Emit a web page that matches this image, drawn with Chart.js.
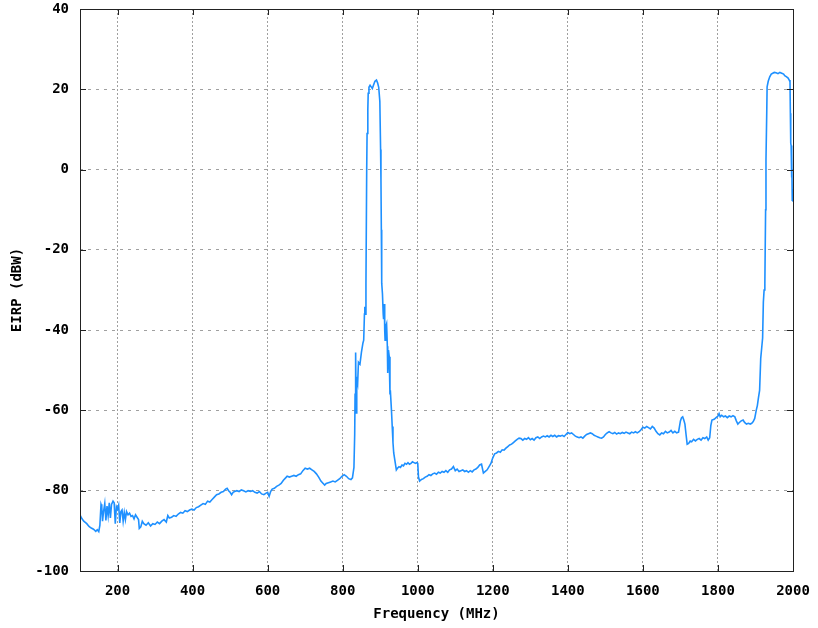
<!DOCTYPE html>
<html>
<head>
<meta charset="utf-8">
<title>EIRP spectrum</title>
<script src="https://cdn.jsdelivr.net/npm/chart.js@4/dist/chart.umd.min.js"></script>
<style>
  html, body { margin: 0; padding: 0; background: #fff; }
  #spectrum { display: block; }
</style>
</head>
<body>
<canvas id="spectrum" width="818" height="628"></canvas>
<script>
// measured sweep, 100 MHz - 2 GHz
const freqMHz = [
  100, 104, 110, 118, 124, 130, 136, 142, 146, 150, 153, 156, 158, 160, 163, 166, 169, 172, 175, 178,
  181, 184, 188, 191, 194, 197, 200, 203, 206, 209, 212, 215, 218, 221, 224, 228, 232, 236, 240, 244,
  248, 252, 256, 258, 262, 266, 270, 276, 282, 288, 294, 300, 306, 312, 318, 324, 330, 334, 338, 344,
  350, 356, 362, 368, 374, 380, 386, 392, 398, 404, 410, 416, 422, 428, 434, 440, 446, 452, 458, 464,
  470, 476, 482, 488, 492, 496, 500, 504, 508, 512, 518, 524, 530, 536, 542, 548, 554, 560, 566, 572,
  578, 584, 590, 596, 600, 604, 608, 612, 618, 624, 630, 636, 642, 648, 652, 658, 664, 670, 676, 682,
  688, 694, 700, 706, 712, 718, 724, 730, 736, 742, 748, 752, 756, 762, 768, 774, 780, 786, 792, 798,
  804, 810, 816, 822, 826, 830, 832, 833, 834, 835, 836, 837, 838, 840, 842, 846, 850, 854, 856, 858,
  859, 861, 862, 864, 865, 867, 868, 870, 873, 876, 879, 882, 886, 890, 893, 896, 899, 901, 902, 903,
  904, 906, 908, 909, 911, 912, 913, 915, 917, 919, 920, 922, 924, 926, 927, 930, 932, 934, 936, 940,
  943, 946, 950, 954, 958, 962, 966, 970, 974, 978, 982, 986, 990, 994, 998, 1000, 1002, 1005, 1010, 1015,
  1020, 1025, 1030, 1035, 1040, 1045, 1050, 1055, 1060, 1065, 1070, 1075, 1080, 1085, 1090, 1095, 1100, 1105, 1110, 1115,
  1120, 1125, 1130, 1135, 1140, 1145, 1150, 1155, 1160, 1165, 1170, 1175, 1180, 1185, 1190, 1195, 1200, 1205, 1210, 1215,
  1220, 1225, 1230, 1235, 1240, 1245, 1250, 1255, 1260, 1265, 1270, 1275, 1280, 1285, 1290, 1295, 1300, 1305, 1310, 1315,
  1320, 1325, 1330, 1335, 1340, 1345, 1350, 1355, 1360, 1365, 1370, 1375, 1380, 1385, 1390, 1395, 1400, 1405, 1410, 1415,
  1420, 1425, 1430, 1435, 1440, 1445, 1450, 1455, 1460, 1465, 1470, 1475, 1480, 1485, 1490, 1495, 1500, 1505, 1510, 1515,
  1520, 1525, 1530, 1535, 1540, 1545, 1550, 1555, 1560, 1565, 1570, 1575, 1580, 1585, 1590, 1595, 1600, 1605, 1610, 1615,
  1620, 1625, 1630, 1635, 1640, 1645, 1650, 1655, 1660, 1665, 1670, 1675, 1680, 1685, 1690, 1695, 1700, 1703, 1706, 1709,
  1712, 1715, 1718, 1722, 1726, 1730, 1735, 1740, 1745, 1750, 1755, 1760, 1765, 1770, 1774, 1778, 1781, 1784, 1790, 1795,
  1800, 1803, 1806, 1810, 1815, 1820, 1825, 1830, 1835, 1840, 1845, 1849, 1853, 1857, 1862, 1867, 1871, 1876, 1881, 1886,
  1890, 1894, 1898, 1902, 1905, 1908, 1911, 1914, 1917, 1919, 1921, 1923, 1925, 1927, 1928, 1930, 1931, 1934, 1938, 1942,
  1946, 1950, 1955, 1960, 1965, 1970, 1975, 1978, 1983, 1987, 1990, 1992, 1993, 1994, 1995, 1996, 1997, 1998, 1999, 2000
];
const eirpDbw = [
  -86.0, -86.8, -87.6, -88.2, -88.9, -89.3, -89.6, -90.1, -89.7, -90.2, -88.6, -83.4, -84.0, -87.6, -85.0, -83.2, -87.4, -83.8, -86.2, -83.0,
  -86.8, -83.4, -82.6, -83.0, -88.2, -84.0, -84.6, -83.6, -88.0, -85.2, -84.8, -87.6, -85.4, -87.2, -85.2, -86.0, -85.6, -86.4, -86.2, -87.0,
  -86.0, -86.6, -87.2, -89.4, -89.0, -87.6, -88.2, -88.6, -88.0, -88.8, -88.2, -88.4, -87.8, -88.2, -87.6, -87.2, -87.8, -86.2, -86.8, -86.6,
  -86.2, -86.4, -85.8, -85.4, -85.6, -85.0, -85.2, -84.8, -84.6, -84.8, -84.2, -84.0, -83.6, -83.2, -83.4, -82.6, -82.8, -82.2, -81.6, -81.0,
  -80.8, -80.4, -80.2, -79.6, -79.4, -80.0, -80.4, -81.0, -80.4, -80.2, -80.0, -80.2, -79.8, -80.0, -80.3, -80.0, -80.2, -80.0, -80.4, -80.6,
  -80.2, -80.8, -81.0, -80.6, -80.4, -81.4, -80.2, -79.6, -79.4, -78.9, -78.6, -78.2, -77.4, -76.8, -76.4, -76.6, -76.4, -76.2, -76.4, -76.0,
  -75.8, -75.0, -74.4, -74.6, -74.4, -74.8, -75.2, -75.8, -76.6, -77.6, -78.2, -78.6, -78.2, -78.0, -77.8, -77.6, -77.8, -77.4, -77.0, -76.4,
  -76.0, -76.4, -77.0, -77.2, -76.8, -74.2, -66.0, -56.0, -48.0, -45.6, -60.6, -52.0, -51.6, -53.0, -48.0, -48.5, -45.5, -43.2, -42.5, -36.0,
  -34.2, -36.0, -28.3, 0.0, 9.0, 15.0, 19.0, 20.5, 21.0, 20.6, 20.2, 21.0, 22.0, 22.3, 21.6, 20.5, 17.0, 5.0, -2.6, -15.0,
  -28.3, -31.0, -36.0, -37.3, -33.5, -40.0, -42.5, -39.0, -38.4, -44.0, -50.7, -45.0, -46.6, -56.0, -55.0, -60.0, -64.0, -68.0, -70.6, -73.0,
  -74.8, -74.4, -74.0, -74.2, -73.6, -73.8, -73.2, -73.4, -73.0, -73.4, -73.2, -72.8, -73.0, -73.2, -73.0, -73.2, -76.6, -77.6, -77.2, -77.0,
  -76.6, -76.4, -76.0, -76.2, -75.8, -75.6, -75.9, -75.4, -75.6, -75.2, -75.4, -75.0, -75.4, -74.8, -74.6, -74.0, -75.0, -74.6, -75.2, -75.0,
  -74.8, -75.2, -75.0, -75.4, -75.0, -75.3, -74.8, -74.6, -74.2, -73.6, -73.4, -75.6, -75.2, -74.8, -74.0, -73.2, -71.8, -70.8, -70.6, -70.2,
  -70.4, -69.8, -69.9, -69.4, -69.0, -68.6, -68.4, -68.0, -67.6, -67.2, -66.9, -67.0, -67.4, -67.0, -67.2, -66.8, -67.3, -67.0, -67.4, -66.8,
  -66.6, -67.0, -66.6, -66.4, -66.6, -66.3, -66.6, -66.2, -66.5, -66.2, -66.6, -66.3, -66.4, -66.2, -66.5, -66.0, -65.5, -65.8, -65.6, -66.0,
  -66.4, -66.6, -66.8, -66.6, -66.9, -66.4, -66.0, -65.8, -65.6, -65.8, -66.2, -66.4, -66.6, -66.8, -66.9, -66.6, -66.0, -65.6, -65.3, -65.6,
  -65.8, -65.5, -65.9, -65.6, -65.8, -65.5, -65.7, -65.4, -65.6, -65.8, -65.4, -65.6, -65.3, -65.6, -65.3, -64.8, -64.2, -64.4, -64.0, -64.3,
  -64.6, -64.0, -64.4, -65.2, -65.8, -66.1, -65.6, -65.8, -65.2, -65.6, -65.4, -65.0, -65.6, -65.2, -65.6, -65.4, -62.6, -61.8, -61.6, -62.4,
  -63.4, -66.0, -68.4, -68.2, -67.6, -67.8, -67.2, -67.6, -67.2, -67.0, -67.4, -66.8, -67.0, -66.6, -67.4, -66.8, -63.8, -62.4, -62.2, -61.8,
  -61.4, -60.8, -61.6, -61.2, -61.6, -61.4, -61.8, -61.4, -61.6, -61.3, -61.6, -62.6, -63.4, -63.0, -62.6, -62.4, -63.0, -63.4, -63.2, -63.4,
  -63.2, -62.8, -62.0, -60.0, -58.8, -56.8, -55.0, -47.0, -44.0, -42.0, -33.0, -30.0, -28.3, -10.0, 2.4, 14.0, 20.6, 22.0, 23.1, 23.8,
  24.0, 24.2, 24.1, 23.9, 24.2, 24.0, 23.8, 23.4, 23.1, 22.8, 22.3, 21.9, 14.0, 6.5, 6.0, -2.0, 4.0, -7.6, -5.0, -8.0
];

const freqTicks = [200, 400, 600, 800, 1000, 1200, 1400, 1600, 1800, 2000];
const eirpTicks = [-100, -80, -60, -40, -20, 0, 20, 40];

const labelFont = { family: "'DejaVu Sans Mono', monospace", size: 14, weight: 'bold' };

// box around the plot with short inward tick marks on all four sides
const frameTicks = {
  id: 'frameTicks',
  afterDatasetsDraw(chart) {
    const { ctx, chartArea: a, scales: { x, y } } = chart;
    const len = 6;
    ctx.save();
    ctx.strokeStyle = '#222';
    ctx.lineWidth = 1;
    ctx.beginPath();
    x.ticks.forEach(t => {
      const px = Math.round(x.getPixelForValue(t.value)) + 0.5;
      ctx.moveTo(px, a.top); ctx.lineTo(px, a.top + len);
      ctx.moveTo(px, a.bottom); ctx.lineTo(px, a.bottom - len);
    });
    y.ticks.forEach(t => {
      const py = Math.round(y.getPixelForValue(t.value)) + 0.5;
      ctx.moveTo(a.left, py); ctx.lineTo(a.left + len, py);
      ctx.moveTo(a.right, py); ctx.lineTo(a.right - len, py);
    });
    ctx.stroke();
    ctx.strokeRect(Math.round(a.left) + 0.5, Math.round(a.top) + 0.5,
      Math.round(a.right - a.left), Math.round(a.bottom - a.top));
    ctx.restore();
  }
};

new Chart(document.getElementById('spectrum'), {
  type: 'line',
  data: {
    datasets: [{
      data: freqMHz.map((f, i) => ({ x: f, y: eirpDbw[i] })),
      borderColor: '#1e90ff',
      borderWidth: 1.6,
      pointRadius: 0,
      tension: 0,
      fill: false
    }]
  },
  options: {
    responsive: false,
    animation: false,
    devicePixelRatio: 1,
    layout: { padding: { top: 9, right: 25, left: 0, bottom: 0 } },
    plugins: { legend: { display: false }, tooltip: { enabled: false } },
    scales: {
      x: {
        type: 'linear',
        min: 100,
        max: 2000,
        afterBuildTicks: s => { s.ticks = freqTicks.map(v => ({ value: v })); },
        afterFit: s => { s.height = 57; s.paddingLeft = 0; s.paddingRight = 0; },
        grid: { color: '#a0a0a0', lineWidth: 1, drawTicks: false },
        border: { display: false, dash: [2, 2] },
        ticks: { color: '#000', font: labelFont, padding: 12, maxRotation: 0, callback: v => String(v) },
        title: {
          display: true,
          text: 'Frequency (MHz)',
          color: '#000',
          font: labelFont,
          padding: { top: 0, bottom: 5 }
        }
      },
      y: {
        type: 'linear',
        min: -100,
        max: 40,
        afterBuildTicks: s => { s.ticks = eirpTicks.map(v => ({ value: v })); },
        afterFit: s => { s.width = 80; s.paddingTop = 0; s.paddingBottom = 0; },
        grid: { color: '#a0a0a0', lineWidth: 1, drawTicks: false },
        border: { display: false, dash: [3, 5] },
        ticks: { color: '#000', font: labelFont, padding: 11, callback: v => String(v) },
        title: {
          display: true,
          text: 'EIRP (dBW)',
          color: '#000',
          font: labelFont,
          padding: { top: 9, bottom: 0 }
        }
      }
    }
  },
  plugins: [frameTicks]
});
</script>
</body>
</html>
